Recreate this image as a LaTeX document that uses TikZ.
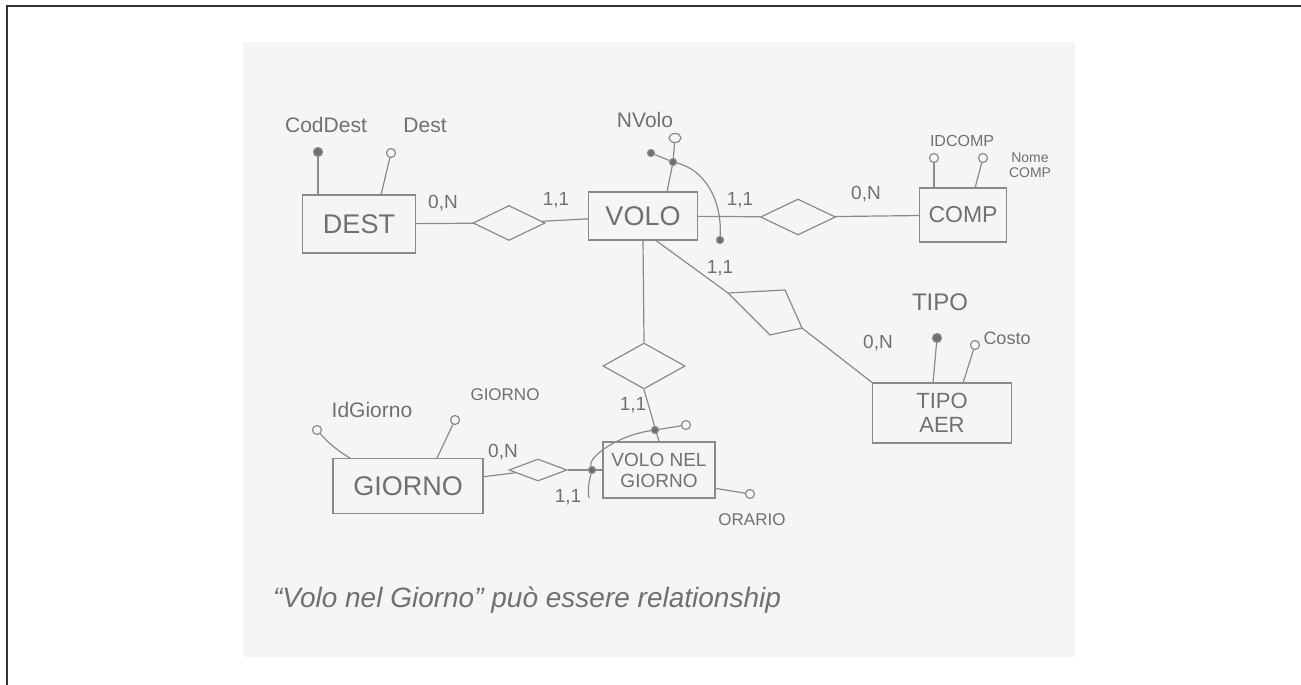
\documentclass[tikz,border=0pt]{standalone}
\usepackage{fontspec}
\setmainfont{Liberation Sans}
\usetikzlibrary{shapes.geometric,calc}
\definecolor{pencil}{HTML}{8A8A8A}
\definecolor{ink}{HTML}{707070}
\definecolor{paper}{HTML}{F5F5F5}
\begin{document}
\begin{tikzpicture}[x=1pt,y=-1pt,
  every path/.style={line width=1.2pt},
  entity/.style={draw=pencil,rectangle,inner sep=0pt,text=ink,font=\fontsize{27}{29}\selectfont,align=center},
  rel/.style={draw=pencil,diamond,inner sep=0pt,shape aspect=2},
  attr/.style={draw=pencil,circle,inner sep=0pt,minimum size=9pt},
  key/.style={attr,fill=pencil!80!black},
  lbl/.style={text=ink,inner sep=0pt,font=\fontsize{21}{22}\selectfont},
  card/.style={text=ink,inner sep=0pt,font=\fontsize{19}{20}\selectfont},
  link/.style={draw=pencil}]
\useasboundingbox (0,0) rectangle (1301,685);
\fill[white] (0,0) rectangle (1301,685);
\fill[paper] (243,42) rectangle (1075,657);
\draw[black!80,line width=1.4pt] (7,685) -- (7,6) -- (1301,6);

% entities
\node[entity,minimum width=113pt,minimum height=58pt] (dest) at (359,224) {DEST};
\node[entity,minimum width=109pt,minimum height=48pt] (volo) at (643,216) {VOLO};
\node[entity,minimum width=87pt,minimum height=54pt,font=\fontsize{23}{25}\selectfont] (comp) at (963,215) {COMP};
\node[entity,minimum width=139pt,minimum height=60pt,font=\fontsize{22}{24}\selectfont] (tipoaer) at (942,413) {TIPO\\AER};
\node[entity,minimum width=150pt,minimum height=55pt] (giorno) at (408,486) {GIORNO};
\node[entity,minimum width=112pt,minimum height=56pt,font=\fontsize{19}{21}\selectfont] (vng) at (659,470) {VOLO NEL\\GIORNO};

% relationships
\node[rel,minimum width=72pt,minimum height=35pt] (r1) at (509,223) {};
\node[rel,minimum width=75pt,minimum height=36pt] (r2) at (798,217) {};
\node[rel,minimum width=82pt,minimum height=46pt] (r4) at (644,366) {};
\node[rel,minimum width=58pt,minimum height=22pt] (r5) at (538,470) {};
\coordinate (r3a) at (728,293);
\coordinate (r3b) at (785,290);
\coordinate (r3c) at (802,328);
\coordinate (r3d) at (770,335);
\draw[link] (r3a) -- (r3b) -- (r3c) -- (r3d) -- cycle;

% connectors
\draw[link] (dest) -- (r1);
\draw[link] (r1) -- (volo);
\draw[link] (volo) -- (r2);
\draw[link] (r2) -- (comp);
\draw[link] (volo.south) -- (r4.north);
\draw[link] (r4.south) -- (vng.north);
\draw[link] (giorno) -- (r5);
\draw[link] (r5) -- (vng);
\draw[link] (volo.-62) -- (r3a);
\draw[link] (r3c) -- (tipoaer.north west);

% attributes DEST
\node[key] (coddest) at (318,152) {};
\node[attr] (destat) at (391,153) {};
\draw[link] (coddest) -- (coddest |- dest.north);
\draw[link] (destat) -- (381,195);
\node[lbl] (lcoddest) at (326,125) {CodDest};
\node[lbl] (ldest) at (425,125) {Dest};

% attributes VOLO
\node[attr,minimum width=12pt,minimum height=9pt,ellipse] (nvolo) at (675,138) {};
\node[key,minimum size=7pt] (vk1) at (651,153) {};
\node[key,minimum size=7pt] (vk2) at (673,162) {};
\node[key,minimum size=7pt] (vk3) at (720,240) {};
\draw[link] (vk1) -- (vk2);
\draw[link] (vk2) -- (nvolo);
\draw[link] (vk2) -- (667,192);
\draw[link] (vk2) .. controls (705,170) and (722,200) .. (vk3);
\node[lbl] (lnvolo) at (645,120) {NVolo};

% attributes COMP
\node[attr] (idcomp) at (934,158) {};
\node[attr] (nomecomp) at (983,158) {};
\draw[link] (idcomp) -- (idcomp |- comp.north);
\draw[link] (nomecomp) -- (975,188);
\node[lbl,font=\fontsize{16}{17}\selectfont] (lidcomp) at (962,141) {IDCOMP};
\node[lbl,font=\fontsize{14}{15}\selectfont,align=center] (lnomecomp) at (1030,165) {Nome\\COMP};

% attributes TIPO AER
\node[key] (tipo) at (937,338) {};
\node[attr] (costo) at (975,345) {};
\draw[link] (tipo) -- (933,383);
\draw[link] (costo) -- (963,383);
\node[lbl,font=\fontsize{24}{26}\selectfont] (ltipo) at (940,302) {TIPO};
\node[lbl,font=\fontsize{18}{19}\selectfont] (lcosto) at (1007,338) {Costo};

% attributes GIORNO
\node[attr] (idgiorno) at (317,430) {};
\node[attr] (giornoat) at (455,420) {};
\draw[link] (idgiorno) .. controls (330,445) and (340,452) .. (350,458);
\draw[link] (giornoat) -- (437,458);
\node[lbl] (lidgiorno) at (372,410) {IdGiorno};
\node[lbl,font=\fontsize{17}{18}\selectfont] (lgiornoat) at (505,395) {GIORNO};

% attributes VOLO NEL GIORNO
\node[key,minimum size=7pt] (gk1) at (655,430) {};
\node[attr] (gk2) at (686,425) {};
\node[key,minimum size=7pt] (gk3) at (592,470) {};
\coordinate (gkend) at (589,498);
\draw[link] (gk1) -- (gk2);
\draw[link] (gk1) .. controls (615,436) and (588,458) .. (gk3) .. controls (590,478) and (587,488) .. (gkend);
\node[attr] (orario) at (750,494) {};
\draw[link] (vng.-18) -- (orario);
\node[lbl,font=\fontsize{17}{18}\selectfont] (lorario) at (752,520) {ORARIO};

% cardinalities
\node[card] (c1) at (443,203) {0,N};
\node[card] (c2) at (556,200) {1,1};
\node[card] (c3) at (740,200) {1,1};
\node[card] (c4) at (866,194) {0,N};
\node[card] (c5) at (720,268) {1,1};
\node[card] (c6) at (878,343) {0,N};
\node[card] (c7) at (633,405) {1,1};
\node[card] (c8) at (503,452) {0,N};
\node[card] (c9) at (568,497) {1,1};

% note
\node[text=ink,inner sep=0pt,font=\itshape\fontsize{28}{30}\selectfont] (note) at (527,600) {\char"201C Volo nel Giorno\char"201D\ può essere relationship};
\end{tikzpicture}
\end{document}
